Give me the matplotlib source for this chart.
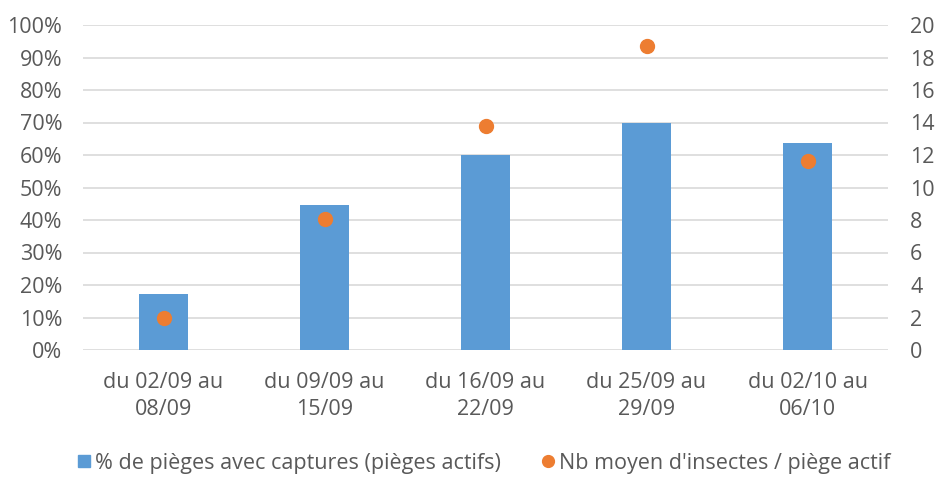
import matplotlib
matplotlib.use("Agg")
import matplotlib.pyplot as plt
from matplotlib.lines import Line2D
from matplotlib.ticker import PercentFormatter

plt.rcParams['font.family'] = ['Open Sans', 'DejaVu Sans']

categories = ["du 02/09 au\n08/09", "du 09/09 au\n15/09", "du 16/09 au\n22/09",
              "du 25/09 au\n29/09", "du 02/10 au\n06/10"]
pct_captures = [17.3, 44.7, 60.0, 70.0, 63.8]
nb_moyen = [1.95, 8.05, 13.8, 18.7, 11.65]
series_names = ["% de pièges avec captures (pièges actifs)", "Nb moyen d'insectes / piège actif"]

bar_color = "#5B9BD5"
dot_color = "#ED7D31"
text_color = "#595959"
grid_color = "#D9D9D9"
fs = 15.5

fig = plt.figure(figsize=(9.39, 4.78), dpi=100)
ax = fig.add_axes([83/939, 1-350/478, (888-83)/939, (350-25)/478])
x = list(range(len(categories)))
ax.bar(x, pct_captures, width=0.31, color=bar_color, zorder=2)
ax.set_xlim(-0.5, len(categories)-0.5)
ax.set_ylim(0, 100)
ax.set_yticks(range(0, 101, 10))
ax.yaxis.set_major_formatter(PercentFormatter(decimals=0))
ax.grid(axis='y', color=grid_color, linewidth=1.2, zorder=0)
ax.set_axisbelow(True)
for s in ax.spines.values():
    s.set_visible(False)
ax.set_xticks(x)
ax.set_xticklabels(categories, linespacing=1.35)
ax.tick_params(axis='both', length=0, labelsize=fs, colors=text_color)
ax.tick_params(axis='y', pad=15)
ax.tick_params(axis='x', pad=16)

ax2 = ax.twinx()
ax2.plot(x, nb_moyen, linestyle='none', marker='o', markersize=10, color=dot_color, zorder=3)
ax2.set_ylim(0, 20)
ax2.set_yticks(range(0, 21, 2))
for s in ax2.spines.values():
    s.set_visible(False)
ax2.tick_params(axis='y', length=0, labelsize=fs, colors=text_color, pad=16)

handles = [Line2D([], [], linestyle='none', marker='s', markersize=8.5, color=bar_color),
           Line2D([], [], linestyle='none', marker='o', markersize=8.5, color=dot_color)]
leg = fig.legend(handles, series_names, loc='center', bbox_to_anchor=(0.514, 1-463/478),
                 ncol=2, frameon=False, fontsize=fs, handletextpad=0.1, columnspacing=1.8,
                 handlelength=0.8)
for t in leg.get_texts():
    t.set_color(text_color)

fig.savefig("out.png", dpi=100)
